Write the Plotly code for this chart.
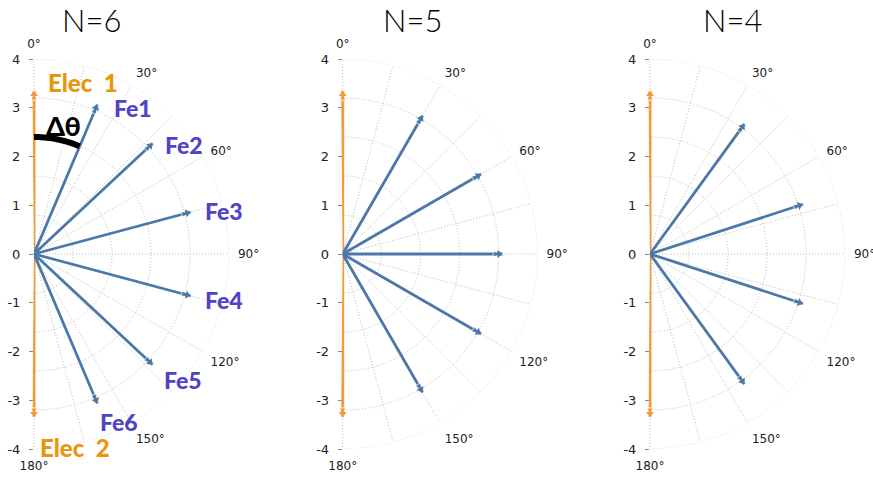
import plotly.graph_objects as go
import numpy as np

# ---------------- data ----------------
panel_titles = ["N=6", "N=5", "N=4"]
fe_angles = [
    [23, 47, 75, 105, 133, 157],
    [30, 60, 90, 120, 150],
    [36, 72, 108, 144],
]
fe_lengths = [
    [3.33, 3.33, 3.33, 3.33, 3.33, 3.33],
    [3.28, 3.28, 3.28, 3.28, 3.28],
    [3.3, 3.3, 3.3, 3.3],
]
elec_angles = [0, 180]
elec_length = 3.35
fe_labels = ["Fe1", "Fe2", "Fe3", "Fe4", "Fe5", "Fe6"]
fe_label_x = [2.03, 3.07, 3.89, 3.89, 3.05, 1.75]
fe_label_y = [3.0, 2.24, 0.88, -0.94, -2.58, -3.45]
elec_labels = ["Elec\u00a0\u00a01", "Elec\u00a0\u00a02"]
elec_label_x = [1.0, 0.85]
elec_label_y = [3.51, -3.96]
delta_label = "Δθ"
delta_r = 2.4
y_ticks = [-4, -3, -2, -1, 0, 1, 2, 3, 4]
y_ticktext = ["-4", "-3", "-2", "-1", "0", "1", "2", "3", "4"]
ang_tickvals = list(range(0, 181, 15))
ang_ticktext = [f"{v}°" if v % 30 == 0 else "" for v in ang_tickvals]
r_grid = [0.8, 1.6, 2.4, 3.2, 4.0]
r_max = 4.0

# ---------------- layout geometry ----------------
W, H = 873, 482
origins_px = [34, 342.7, 650]
title_px = [(91, 20), (412, 20), (732, 20)]
R_PX = 195
top_px, bot_px = 59, 449
ydom = [1 - bot_px / H, 1 - top_px / H]
SECT_PAD = 0.6  # degrees of extra sector so the axis-line arrow is not clipped
pad_px = R_PX * np.sin(np.radians(SECT_PAD))

BLUE = "#4b78a8"
ORANGE = "#f59a3a"
ELEC_TXT = "#e8960c"
FE_TXT = "#4f43c6"
GRID = "#bcbcbc"
DOTS = "1px,2px"

fig = go.Figure()
layout = dict(
    width=W, height=H,
    margin=dict(l=0, r=0, t=0, b=0, autoexpand=False),
    paper_bgcolor="white", plot_bgcolor="rgba(0,0,0,0)",
    showlegend=False,
)
annotations = []


def arrow_trace(r, theta, color, width, sub):
    """line from origin plus two stacked head markers at the tip"""
    return [
        go.Scatterpolar(
            r=r, theta=theta, mode="lines+markers",
            line=dict(color=color, width=width),
            marker=dict(symbol="arrow", size=[0 if v == 0 else 10 for v in r],
                        color=color, angle=theta),
            subplot=sub, hoverinfo="skip", cliponaxis=False,
        ),
        go.Scatterpolar(
            r=[v for v in r if v != 0], theta=[t for v, t in zip(r, theta) if v != 0],
            mode="markers",
            marker=dict(symbol="triangle-up", size=7, color=color, standoff=3.5,
                        angle=[t for v, t in zip(r, theta) if v != 0]),
            subplot=sub, hoverinfo="skip", cliponaxis=False,
        ),
    ]


for i in range(3):
    pid = "polar" if i == 0 else f"polar{i+1}"
    sub = pid
    xdom = [(origins_px[i] - pad_px) / W, (origins_px[i] + R_PX) / W]
    layout[pid] = dict(
        domain=dict(x=xdom, y=ydom),
        sector=[-90 - SECT_PAD, 90 + SECT_PAD],
        bgcolor="rgba(0,0,0,0)",
        angularaxis=dict(
            rotation=90, direction="clockwise",
            tickmode="array", tickvals=ang_tickvals, ticktext=ang_ticktext,
            showline=False, ticks="outside", ticklen=6, tickcolor="rgba(0,0,0,0)",
            gridcolor=GRID, griddash=DOTS, gridwidth=1,
            tickfont=dict(family="DejaVu Sans", size=12, color="#222"),
        ),
        radialaxis=dict(
            range=[0, r_max], tickmode="array", tickvals=r_grid,
            showticklabels=False, ticks="", showline=False,
            gridcolor=GRID, griddash=DOTS, gridwidth=1,
        ),
    )
    # outer boundary circle (dotted, like the grid)
    outer_theta = np.linspace(0, 180, 121)
    fig.add_trace(go.Scatterpolar(
        r=[r_max] * len(outer_theta), theta=outer_theta, mode="lines",
        line=dict(color=GRID, width=1, dash=DOTS),
        subplot=sub, hoverinfo="skip", cliponaxis=False,
    ))
    # Elec arrow (double-headed)
    for a in elec_angles:
        fig.add_traces(arrow_trace([0, elec_length], [a, a], ORANGE, 3, sub))
    # Fe arrows
    for a, L in zip(fe_angles[i], fe_lengths[i]):
        fig.add_traces(arrow_trace([0, L], [a, a], BLUE, 2.8, sub))
    if i == 0:
        arc_theta = np.linspace(0, fe_angles[0][0], 30)
        fig.add_trace(go.Scatterpolar(
            r=[delta_r] * len(arc_theta), theta=arc_theta,
            mode="lines", line=dict(color="black", width=6),
            subplot=sub, hoverinfo="skip", cliponaxis=False,
        ))

    # cartesian overlay for the left scale and labels
    xa = "xaxis" if i == 0 else f"xaxis{i+1}"
    ya = "yaxis" if i == 0 else f"yaxis{i+1}"
    xr = "x" if i == 0 else f"x{i+1}"
    yr = "y" if i == 0 else f"y{i+1}"
    cx = [origins_px[i] / W, (origins_px[i] + R_PX) / W]
    layout[xa] = dict(domain=cx, range=[0, 4], visible=False, anchor=yr,
                      fixedrange=True, automargin=False)
    layout[ya] = dict(domain=ydom, range=[-4, 4], anchor=xr,
                      tickmode="array", tickvals=y_ticks, ticktext=y_ticktext,
                      ticks="outside", ticklen=4, tickcolor="#888",
                      ticklabelstandoff=6, automargin=False,
                      showgrid=False, zeroline=False, showline=False,
                      tickfont=dict(family="DejaVu Sans", size=13, color="#222"),
                      fixedrange=True)
    fig.add_trace(go.Scatter(x=[0], y=[0], mode="markers",
                             marker=dict(size=0, opacity=0),
                             xaxis=xr, yaxis=yr, hoverinfo="skip"))
    annotations.append(dict(
        text=panel_titles[i], xref="paper", yref="paper",
        x=title_px[i][0] / W, y=1 - title_px[i][1] / H, showarrow=False,
        font=dict(family="Lato", size=31, color="#000", weight=300),
        xanchor="center", yanchor="middle",
    ))
    if i == 0:
        for t, x, y in zip(fe_labels, fe_label_x, fe_label_y):
            annotations.append(dict(text=t, xref=xr, yref=yr, x=x, y=y,
                                    showarrow=False, xanchor="center", yanchor="middle",
                                    font=dict(family="Lato", size=23, color=FE_TXT, weight=900)))
        for t, x, y in zip(elec_labels, elec_label_x, elec_label_y):
            annotations.append(dict(text=t, xref=xr, yref=yr, x=x, y=y,
                                    showarrow=False, xanchor="center", yanchor="middle",
                                    font=dict(family="Lato", size=24, color=ELEC_TXT, weight=900)))
        annotations.append(dict(text=delta_label, xref=xr, yref=yr, x=0.6, y=2.63,
                                showarrow=False, xanchor="center", yanchor="middle",
                                font=dict(family="Lato", size=27, color="black", weight=900)))

layout["annotations"] = annotations
fig.update_layout(**layout)
fig.write_html("out.html")
